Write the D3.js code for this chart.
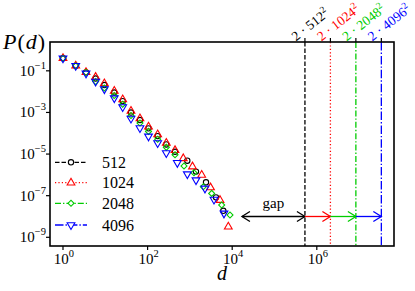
<!DOCTYPE html>
<html>
<head>
<meta charset="utf-8">
<script src="https://cdn.jsdelivr.net/npm/d3@7"></script>
<style>
body{margin:0;background:#fff;}
text{font-family:"Liberation Serif","Times New Roman",serif;fill:#000;}
</style>
</head>
<body>
<div id="chart"></div>
<script>
// system sizes and their styles
var sizes = [512, 1024, 2048, 4096];
var colors = ["#000000", "#ff0000", "#00cc00", "#0000ff"];

// P(d), one pair of arrays per size
var d512 = [1, 2, 3.5, 5.9, 9.5, 16.3, 25.8, 40.5, 66, 105, 173, 277, 445, 869, 1393, 2404, 4140, 6166];
var p512 = [0.40, 0.176, 0.0847, 0.0427, 0.0207, 9.1e-3, 3.5e-3, 9.9e-4, 4.3e-4, 1.72e-4, 7.3e-5, 2.9e-5, 1.29e-5, 4.8e-6, 1.44e-6, 4.4e-7, 8.3e-8, 1.88e-8];

var d1024 = [1, 2, 3.5, 5.9, 9.5, 16.3, 25.8, 40.5, 66, 105, 173, 277, 445, 698, 1151, 1901, 3069, 5152, 8091];
var p1024 = [0.40, 0.176, 0.0847, 0.050, 0.0245, 0.0107, 4.2e-3, 1.17e-3, 5.1e-4, 2.04e-4, 8.7e-5, 3.4e-5, 1.51e-5, 6.2e-6, 2.5e-6, 9.8e-7, 2.45e-7, 6.1e-8, 3.2e-9];

var d2048 = [1, 2, 3.5, 5.9, 9.5, 16.3, 25.8, 40.5, 66, 105, 173, 277, 445, 726, 1250, 2075, 3273, 5649, 8872];
var p2048 = [0.398, 0.174, 0.083, 0.0306, 0.0148, 6.5e-3, 2.5e-3, 7.1e-4, 3.1e-4, 1.23e-4, 5.2e-5, 2.1e-5, 9.3e-6, 2.65e-6, 1.26e-6, 2.68e-7, 1.29e-7, 3.53e-8, 1.17e-8];

var d4096 = [1, 2, 3.5, 5.9, 9.5, 16.3, 25.8, 40.5, 66, 105, 173, 277, 504, 869, 1393, 2275, 3715, 6397];
var p4096 = [0.40, 0.176, 0.0759, 0.0306, 0.0133, 4.9e-3, 1.82e-3, 5.1e-4, 1.78e-4, 7.1e-5, 3.4e-5, 1.12e-5, 3.8e-6, 1.09e-6, 5.6e-7, 2.24e-7, 6.6e-8, 1.41e-8];

var xTicks = [0, 2, 4, 6];          // exponents
var yTicks = [-1, -3, -5, -7, -9];  // exponents
var gapStart = 1.7e4;   // left end of the "gap" arrow
var arrowP = 1e-8;      // height of the arrows

var series = [
    {d: d512, p: p512},
    {d: d1024, p: p1024},
    {d: d2048, p: p2048},
    {d: d4096, p: p4096}
];
var dashes = ["4.5,2", "1.2,2.2", "6,2,1.4,2", "8.5,2,1.4,2"];

var W = 415, H = 291;
var mL = 50, mR = 394, mT = 42, mB = 246;

var svg = d3.select("#chart").append("svg")
    .attr("width", W)
    .attr("height", H);

var x = d3.scaleLog()
    .domain([Math.pow(10, -0.307), Math.pow(10, 7.825)])
    .range([mL, mR]);
var y = d3.scaleLog()
    .domain([Math.pow(10, 0.385), Math.pow(10, -9.418)])
    .range([mT, mB]);

function marker(i) {
    // circle, up triangle, diamond, down triangle
    if (i == 0) return d3.symbol().type(d3.symbolCircle).size(22)();
    if (i == 1) return d3.symbol().type(d3.symbolTriangle).size(26)();
    if (i == 2) return d3.symbol().type(d3.symbolSquare).size(18)();
    return d3.symbol().type(d3.symbolTriangle).size(26)();
}
function markerRot(i) {
    if (i == 2) return " rotate(45)";
    if (i == 3) return " rotate(180)";
    return "";
}

// vertical lines at 2*L^2
var vlines = sizes.map(function(L) { return 2 * L * L; });
vlines.forEach(function(v, i) {
    svg.append("line")
        .attr("x1", x(v)).attr("x2", x(v))
        .attr("y1", mT).attr("y2", mB)
        .attr("stroke", colors[i])
        .attr("stroke-width", 1.3)
        .attr("stroke-dasharray", dashes[i]);
    // top tick
    svg.append("line")
        .attr("x1", x(v)).attr("x2", x(v))
        .attr("y1", mT - 4).attr("y2", mT)
        .attr("stroke", "#000")
        .attr("stroke-width", 1.2);
    var t = svg.append("text")
        .attr("transform", "translate(" + (x(v) - 9) + "," + (mT - 0.5) + ") rotate(-38)")
        .style("font-size", "13.5px")
        .style("fill", colors[i]);
    t.append("tspan").text("2 \u00b7 " + sizes[i]);
    t.append("tspan").attr("dy", -5.5).style("font-size", "9.5px").text("2");
});

// arrows
function arrowHead(px, py, dir, col) {
    svg.append("path")
        .attr("d", "M" + (px - dir * 8) + "," + (py - 5) + " L" + px + "," + py + " L" + (px - dir * 8) + "," + (py + 5))
        .attr("fill", "none")
        .attr("stroke", col)
        .attr("stroke-width", 1.3);
}
var ay = y(arrowP);
svg.append("line")
    .attr("x1", x(gapStart)).attr("x2", x(vlines[0]))
    .attr("y1", ay).attr("y2", ay)
    .attr("stroke", "#000").attr("stroke-width", 1.3);
arrowHead(x(gapStart), ay, -1, "#000");
arrowHead(x(vlines[0]), ay, 1, "#000");
for (var k = 1; k < vlines.length; k++) {
    svg.append("line")
        .attr("x1", x(vlines[k - 1])).attr("x2", x(vlines[k]))
        .attr("y1", ay).attr("y2", ay)
        .attr("stroke", colors[k]).attr("stroke-width", 1.3);
    arrowHead(x(vlines[k]), ay, 1, colors[k]);
}
svg.append("text")
    .attr("x", (x(gapStart) + x(vlines[0])) / 2)
    .attr("y", ay - 8)
    .attr("text-anchor", "middle")
    .style("font-size", "15px")
    .text("gap");

// data points
series.forEach(function(s, i) {
    svg.append("g").selectAll("path")
        .data(s.d.map(function(dv, j) { return [dv, s.p[j]]; }))
        .enter()
        .append("path")
        .attr("d", marker(i))
        .attr("transform", function(q) {
            return "translate(" + x(q[0]) + "," + y(q[1]) + ")" + markerRot(i);
        })
        .attr("fill", "none")
        .attr("stroke", colors[i])
        .attr("stroke-width", 1.1);
});

// frame
svg.append("rect")
    .attr("x", mL).attr("y", mT)
    .attr("width", mR - mL).attr("height", mB - mT)
    .attr("fill", "none")
    .attr("stroke", "#000")
    .attr("stroke-width", 1.6);

// x ticks
xTicks.forEach(function(e) {
    var px = x(Math.pow(10, e));
    svg.append("line")
        .attr("x1", px).attr("x2", px)
        .attr("y1", mB).attr("y2", mB + 4)
        .attr("stroke", "#000").attr("stroke-width", 1.2);
    var t = svg.append("text")
        .attr("x", px + 1).attr("y", mB + 18)
        .attr("text-anchor", "middle")
        .style("font-size", "15px");
    t.append("tspan").text("10");
    t.append("tspan").attr("dy", -7).style("font-size", "10.5px").text(e);
});

// y ticks
yTicks.forEach(function(e) {
    var py = y(Math.pow(10, e));
    svg.append("line")
        .attr("x1", mL - 4).attr("x2", mL)
        .attr("y1", py).attr("y2", py)
        .attr("stroke", "#000").attr("stroke-width", 1.2);
    var t = svg.append("text")
        .attr("x", mL - 4).attr("y", py + 5)
        .attr("text-anchor", "end")
        .style("font-size", "15px");
    t.append("tspan").text("10");
    t.append("tspan").attr("dy", -7).style("font-size", "10.5px").text("\u2212" + (-e));
});

// axis labels
svg.append("text")
    .attr("x", (mL + mR) / 2).attr("y", 280)
    .attr("text-anchor", "middle")
    .style("font-size", "20px")
    .style("font-style", "italic")
    .text("d");
var pl = svg.append("text")
    .attr("x", 3).attr("y", 49)
    .style("font-size", "22px")
    .style("letter-spacing", "1px");
pl.append("tspan").style("font-style", "italic").text("P");
pl.append("tspan").text("(");
pl.append("tspan").style("font-style", "italic").text("d");
pl.append("tspan").text(")");

// legend
var legY = [162.3, 182.7, 203.3, 225];
sizes.forEach(function(L, i) {
    var g = svg.append("g");
    g.append("line")
        .attr("x1", 55).attr("x2", 87)
        .attr("y1", legY[i]).attr("y2", legY[i])
        .attr("stroke", colors[i])
        .attr("stroke-width", 1.3)
        .attr("stroke-dasharray", dashes[i]);
    g.append("path")
        .attr("d", marker(i))
        .attr("transform", "translate(71," + legY[i] + ")" + markerRot(i))
        .attr("fill", "#fff")
        .attr("stroke", colors[i])
        .attr("stroke-width", 1.1);
    g.append("text")
        .attr("x", 102).attr("y", legY[i] + 5.5)
        .style("font-size", "16px")
        .text(L);
});
</script>
</body>
</html>
